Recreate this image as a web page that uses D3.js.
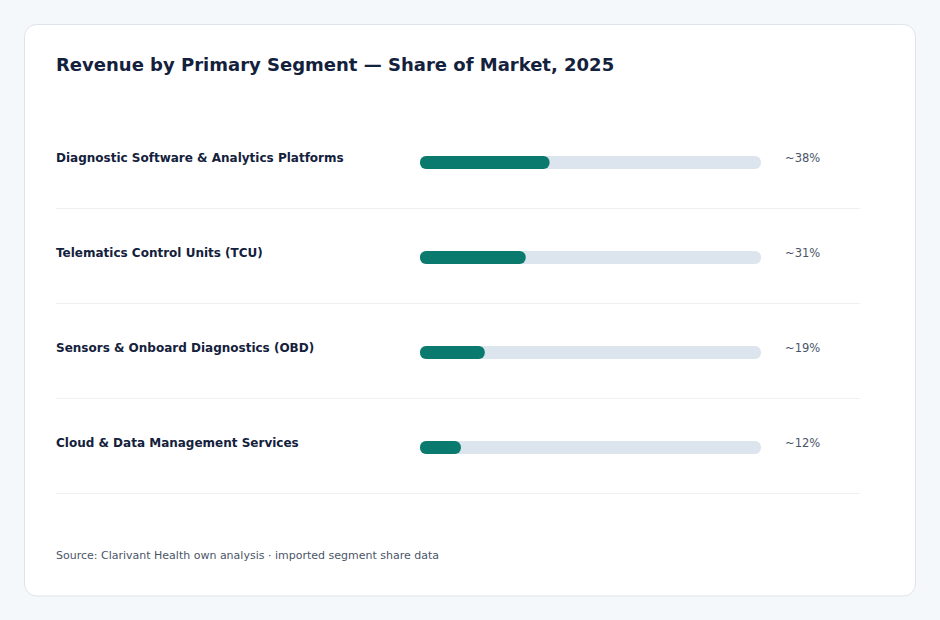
<!DOCTYPE html>
<html>
<head>
<meta charset="utf-8">
<script src="https://cdn.jsdelivr.net/npm/d3@7"></script>
<style>
  html, body { margin: 0; padding: 0; background: #f5f8fb; }
  body { width: 940px; height: 620px; overflow: hidden; font-family: "DejaVu Sans", sans-serif; }
</style>
</head>
<body>
<div id="chart"></div>
<script>
const segments = [
    "Diagnostic Software & Analytics Platforms",
    "Telematics Control Units (TCU)",
    "Sensors & Onboard Diagnostics (OBD)",
    "Cloud & Data Management Services"
];
const shares = [38, 31, 19, 12];
const shareLabels = ["~38%", "~31%", "~19%", "~12%"];

const title = "Revenue by Primary Segment \u2014 Share of Market, 2025";
const source = "Source: Clarivant Health own analysis \u00b7 imported segment share data";

const width = 940, height = 620;

const svg = d3.select("#chart")
    .append("svg")
    .attr("width", width)
    .attr("height", height);

// Karte
svg.append("rect")
    .attr("x", 24.5)
    .attr("y", 24.5)
    .attr("width", 891)
    .attr("height", 571.5)
    .attr("rx", 12)
    .attr("fill", "#ffffff")
    .attr("stroke", "#dfe4ea");

svg.append("text")
    .attr("x", 56)
    .attr("y", 71)
    .attr("fill", "#13213c")
    .attr("font-size", "18px")
    .attr("font-weight", "bold")
    .text(title);

// Zeilen
const y = d3.scaleBand()
    .domain(segments)
    .range([113, 113 + 95 * segments.length]);

const x = d3.scaleLinear()
    .domain([0, 100])
    .range([420, 761]);

const barH = 13;

const rows = svg.append("g")
    .selectAll("g")
    .data(segments)
    .join("g")
    .attr("transform", d => `translate(0, ${y(d)})`);

rows.append("text")
    .attr("x", 56)
    .attr("y", 45)
    .attr("dy", "0.35em")
    .attr("fill", "#13213c")
    .attr("font-size", "12px")
    .attr("font-weight", "bold")
    .text(d => d);

rows.append("rect")
    .attr("x", x(0))
    .attr("y", 43)
    .attr("width", x(100) - x(0))
    .attr("height", barH)
    .attr("rx", 6)
    .attr("fill", "#dce5ee");

rows.append("rect")
    .attr("x", x(0))
    .attr("y", 43)
    .attr("width", (d, i) => x(shares[i]) - x(0))
    .attr("height", barH)
    .attr("rx", 6)
    .attr("fill", "#0b7a6e");

rows.append("text")
    .attr("x", 785)
    .attr("y", 45)
    .attr("dy", "0.35em")
    .attr("fill", "#4a5568")
    .attr("font-size", "11.5px")
    .text((d, i) => shareLabels[i]);

rows.append("line")
    .attr("x1", 56)
    .attr("x2", 860)
    .attr("y1", y.bandwidth() + 0.5)
    .attr("y2", y.bandwidth() + 0.5)
    .attr("stroke", "#eef1f4");

svg.append("text")
    .attr("x", 56)
    .attr("y", 559)
    .attr("fill", "#4a5568")
    .attr("font-size", "11px")
    .text(source);
</script>
</body>
</html>
